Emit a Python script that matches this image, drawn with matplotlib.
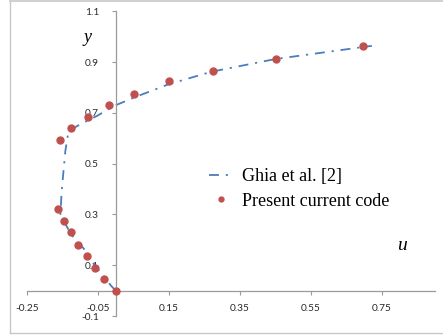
import matplotlib
matplotlib.use("Agg")
import matplotlib.pyplot as plt
from matplotlib.lines import Line2D

# Ghia et al. reference profile (u along vertical centreline)
ghia_u = [0.0, -0.013, -0.067, -0.091, -0.125, -0.156, -0.152, -0.142, -0.133,
          -0.10, -0.05, -0.007, 0.06, 0.15, 0.27, 0.45, 0.722]
ghia_y = [0.0, 0.019, 0.114, 0.167, 0.22, 0.298, 0.397, 0.549, 0.628,
          0.655, 0.69, 0.726, 0.765, 0.813, 0.862, 0.912, 0.964]

# present code results
code_u = [0.0, -0.032, -0.059, -0.081, -0.106, -0.125, -0.147, -0.162, -0.158,
          -0.126, -0.078, -0.020, 0.053, 0.149, 0.274, 0.451, 0.698]
code_y = [0.0, 0.047, 0.090, 0.138, 0.180, 0.230, 0.276, 0.321, 0.594,
          0.642, 0.685, 0.732, 0.776, 0.824, 0.866, 0.914, 0.962]

xticks = [-0.25, -0.05, 0.15, 0.35, 0.55, 0.75]
yticks = [-0.1, 0.1, 0.3, 0.5, 0.7, 0.9, 1.1]

W, H = 443, 336
fig = plt.figure(figsize=(W / 100, H / 100), dpi=100)
ax = fig.add_axes([27 / W, 20 / H, 408 / W, 304.7 / H])

blue = "#4A7EBB"
red = "#C0504D"

line, = ax.plot(ghia_u, ghia_y, color=blue, lw=1.3, label="Ghia et al. [2]")
line.set_dashes([5.5, 3.8, 1.2, 3.8])
ax.plot(code_u, code_y, "o", color=red, ms=5, mec=red, label="Present current code",
        zorder=3)

ax.set_xlim(-0.25, 0.9)
ax.set_ylim(-0.1, 1.1)
ax.set_xticks(xticks)
ax.set_yticks(yticks)
ax.set_xticklabels([f"{v:g}" for v in xticks])
ax.set_yticklabels([f"{v:g}" for v in yticks])

for s in ("top", "right"):
    ax.spines[s].set_visible(False)
ax.spines["left"].set_position(("data", 0))
ax.spines["bottom"].set_position(("data", 0))
for s in ("left", "bottom"):
    ax.spines[s].set_color("#9a9a9a")
    ax.spines[s].set_linewidth(0.9)

ax.tick_params(axis="both", direction="out", length=3, width=0.8, color="#9a9a9a",
               labelsize=7.3, labelcolor="#2a2a2a")
ax.tick_params(axis="y", pad=9)
ax.tick_params(axis="x", pad=7)
for t in ax.get_xticklabels() + ax.get_yticklabels():
    t.set_fontfamily("Lato")

# axis names
fig.text(88 / W, 1 - 38 / H, "y", family="Liberation Serif", style="italic",
         fontsize=13, ha="center", va="center")
fig.text(402 / W, 1 - 246 / H, "u", family="Liberation Serif", style="italic",
         fontsize=14, ha="center", va="center")

leg = ax.legend(loc="center left", bbox_to_anchor=(209 / W, 1 - 189 / H),
                bbox_transform=fig.transFigure, frameon=False,
                prop={"family": "Liberation Serif", "size": 13},
                handlelength=1.3, handletextpad=0.5, labelspacing=0.42,
                borderpad=0, borderaxespad=0, markerscale=0.7)

# chart frame
frame = "#c8c8c8"
fig.add_artist(Line2D([9.5 / W, 9.5 / W], [1 - 1 / H, 1 - 333 / H], color=frame, lw=1))
fig.add_artist(Line2D([9.5 / W, 1], [1 - 1 / H, 1 - 1 / H], color=frame, lw=1.2))
fig.add_artist(Line2D([9.5 / W, 1], [1 - 333 / H, 1 - 333 / H], color=frame, lw=1))

fig.savefig("out.png", dpi=100)
